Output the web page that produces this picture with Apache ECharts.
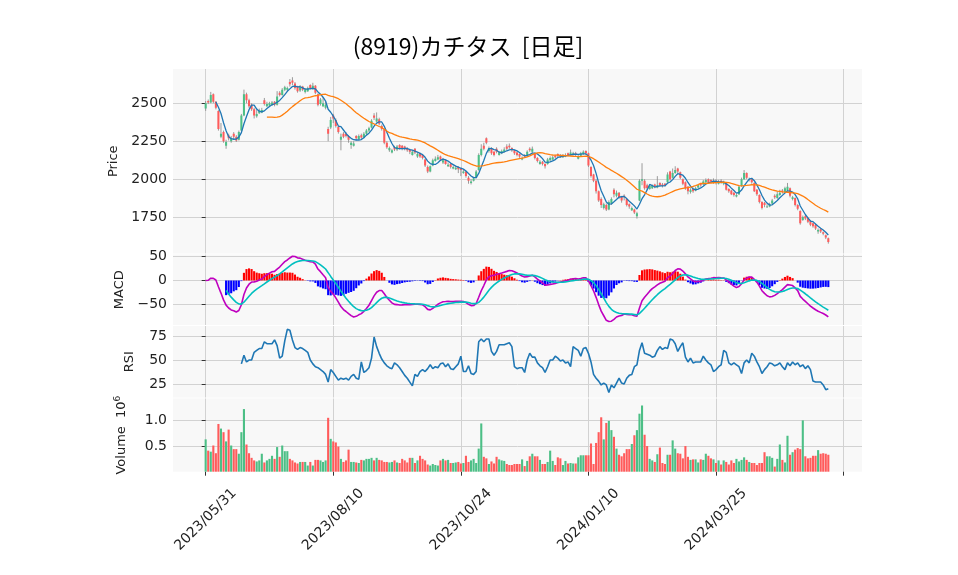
<!DOCTYPE html>
<html>
<head>
<meta charset="utf-8">
<script src="https://cdn.jsdelivr.net/npm/echarts@6/dist/echarts.min.js"></script>
<style>
  html, body { margin: 0; padding: 0; background: #fff; }
  #chart { width: 958px; height: 575px; }
</style>
</head>
<body>
<div id="chart"></div>
<script>
// x ticks every 50 trading days
const tickIdx = [0, 50, 100, 150, 200, 250];
const tickLabels = ['2023/05/31', '2023/08/10', '2023/10/24', '2024/01/10', '2024/03/25', ''];

// daily prices (yen)
const openP = [
  2465,2515,2505,2560,2510,2450,2280,2310,2220,2290, 2250,2300,2280,2260,2320,2420,2560,2520,2490,2460,
  2415,2435,2440,2520,2480,2485,2490,2510,2490,2570, 2555,2590,2590,2640,2650,2630,2610,2585,2610,2575,
  2580,2620,2595,2615,2560,2495,2480,2470,2330,2340, 2420,2390,2345,2260,2300,2300,2285,2225,2220,2285,
  2265,2290,2275,2300,2320,2340,2420,2380,2395,2350, 2330,2240,2190,2175,2210,2195,2225,2220,2215,2205,
  2195,2160,2200,2150,2170,2160,2130,2080,2050,2090, 2120,2130,2150,2110,2125,2085,2100,2070,2065,2080,
  2070,2040,2050,2010,1975,1990,2010,2060,2160,2220, 2270,2185,2200,2180,2200,2160,2170,2180,2215,2220,
  2205,2190,2175,2165,2130,2160,2160,2200,2180,2170, 2140,2100,2115,2100,2100,2125,2130,2155,2165,2160,
  2145,2150,2170,2160,2160,2170,2135,2155,2165,2185, 2170,2080,2030,1990,1920,1870,1810,1830,1800,1840,
  1930,1890,1910,1885,1890,1870,1835,1795,1800,1755, 1860,1990,1990,1960,1935,1940,1965,1945,1975,1965,
  1970,1980,2050,2010,2040,2070,2045,2000,1980,1950, 1915,1935,1925,1945,1970,1965,1980,2000,1995,1975,
  1990,1970,1990,1970,1975,1935,1925,1910,1885,1900, 1955,2000,2040,1995,2000,1975,1930,1895,1850,1845,
  1815,1820,1840,1890,1875,1895,1925,1915,1925,1940, 1870,1875,1830,1790,1730,1755,1745,1725,1710,1700,
  1655,1670,1650,1630,1610
];
const highP = [
  2515,2525,2575,2565,2515,2455,2370,2320,2260,2300, 2285,2310,2290,2320,2430,2590,2570,2530,2500,2470,
  2460,2465,2470,2535,2510,2510,2515,2515,2580,2580, 2600,2615,2610,2660,2672,2640,2615,2620,2615,2600,
  2610,2625,2635,2620,2565,2535,2540,2510,2345,2410, 2430,2400,2350,2300,2310,2310,2290,2250,2250,2290,
  2295,2300,2310,2330,2345,2395,2435,2440,2405,2360, 2335,2250,2215,2200,2220,2225,2230,2225,2220,2210,
  2200,2190,2205,2175,2175,2165,2135,2090,2090,2135, 2150,2160,2155,2140,2130,2110,2105,2090,2085,2085,
  2075,2060,2055,2020,2000,2015,2060,2170,2230,2240, 2275,2215,2210,2185,2210,2185,2195,2210,2230,2235,
  2210,2195,2180,2170,2150,2165,2190,2210,2215,2175, 2145,2125,2120,2105,2140,2150,2155,2160,2170,2165,
  2165,2170,2175,2195,2180,2180,2160,2180,2190,2190, 2175,2085,2035,2000,1925,1880,1845,1840,1860,1880,
  1940,1925,1915,1890,1900,1875,1840,1820,1805,1785, 2000,2105,2000,1970,1965,1965,1970,2020,1980,1975,
  1975,2045,2055,2070,2085,2075,2050,2005,1985,1955, 1940,1945,1950,1965,1975,1995,2005,2005,2000,2005,
  2000,1995,2000,1990,1980,1940,1930,1915,1905,1955, 2010,2060,2045,2010,2005,1980,1935,1900,1855,1850,
  1835,1845,1870,1900,1920,1930,1935,1950,1975,1945, 1890,1880,1835,1795,1760,1765,1750,1730,1715,1705,
  1675,1675,1655,1635,1615
];
const lowP = [
  2450,2495,2500,2500,2460,2320,2270,2240,2200,2255, 2240,2265,2245,2255,2315,2415,2500,2470,2450,2400,
  2405,2430,2435,2485,2475,2475,2485,2480,2485,2545, 2550,2580,2575,2610,2620,2590,2570,2575,2580,2565,
  2575,2590,2590,2560,2480,2485,2475,2460,2250,2330, 2370,2340,2300,2190,2270,2275,2240,2200,2215,2255,
  2260,2265,2270,2290,2310,2335,2390,2375,2355,2320, 2230,2200,2180,2170,2185,2185,2195,2190,2190,2180,
  2165,2155,2165,2140,2140,2130,2080,2040,2045,2085, 2115,2125,2120,2100,2095,2080,2070,2065,2060,2040,
  2020,2035,2010,1970,1965,1985,2005,2055,2150,2190, 2230,2175,2160,2150,2170,2155,2165,2175,2190,2200,
  2180,2160,2150,2140,2125,2140,2150,2180,2170,2130, 2110,2095,2090,2070,2095,2120,2125,2135,2145,2140,
  2140,2145,2150,2155,2155,2150,2130,2150,2160,2160, 2080,2010,1980,1905,1850,1810,1800,1790,1795,1830,
  1880,1880,1870,1845,1860,1820,1805,1790,1770,1740, 1855,1960,1930,1930,1930,1935,1940,1940,1950,1945,
  1950,1975,1990,2005,2035,2040,2000,1960,1930,1900, 1905,1910,1920,1940,1950,1960,1975,1970,1975,1970,
  1965,1965,1970,1960,1925,1910,1895,1885,1880,1895, 1950,1995,2000,1985,1970,1915,1890,1840,1800,1815,
  1810,1815,1835,1870,1870,1890,1905,1910,1920,1880, 1860,1820,1795,1700,1725,1730,1710,1690,1680,1665,
  1640,1645,1630,1605,1575
];
const closeP = [
  2500,2505,2555,2510,2470,2330,2300,2250,2245,2270, 2270,2280,2255,2310,2420,2560,2520,2480,2460,2420,
  2430,2450,2455,2495,2495,2500,2505,2490,2545,2555, 2590,2605,2600,2625,2635,2600,2580,2605,2590,2590,
  2600,2600,2615,2570,2490,2525,2500,2490,2300,2390, 2400,2350,2310,2280,2280,2285,2260,2240,2235,2270,
  2285,2275,2300,2320,2335,2385,2405,2400,2365,2330, 2240,2210,2205,2190,2195,2215,2200,2205,2200,2190,
  2180,2180,2175,2165,2150,2140,2090,2050,2085,2125, 2135,2145,2130,2125,2100,2095,2080,2080,2075,2065,
  2060,2050,2020,1990,1985,2005,2050,2160,2200,2200, 2240,2205,2170,2160,2180,2175,2185,2195,2200,2210,
  2190,2170,2160,2150,2140,2150,2180,2190,2200,2140, 2120,2115,2100,2085,2130,2140,2145,2145,2155,2150,
  2155,2160,2160,2175,2170,2160,2150,2170,2180,2170, 2090,2020,1990,1920,1860,1830,1835,1800,1850,1870,
  1900,1910,1880,1860,1880,1830,1820,1810,1780,1775, 1990,2000,1940,1940,1955,1955,1950,1960,1960,1955,
  1960,2030,2000,2040,2060,2050,2010,1970,1940,1920, 1930,1920,1940,1960,1960,1985,1995,1980,1985,1990,
  1975,1985,1975,1980,1930,1920,1900,1895,1895,1950, 2000,2040,2010,2000,1980,1920,1900,1850,1810,1830,
  1820,1835,1860,1880,1900,1910,1915,1940,1950,1890, 1880,1830,1805,1710,1750,1740,1720,1700,1690,1675,
  1665,1655,1640,1615,1585
];
// volume in millions of shares
const volume = [
  0.63,0.41,0.39,0.51,0.36,0.93,0.84,0.77,0.59,0.82, 0.51,0.44,0.44,0.35,0.77,1.22,0.53,0.36,0.27,0.22,
  0.20,0.22,0.35,0.18,0.22,0.25,0.31,0.25,0.48,0.29, 0.51,0.40,0.40,0.25,0.22,0.18,0.16,0.19,0.19,0.19,
  0.12,0.19,0.12,0.23,0.23,0.22,0.19,0.22,1.05,0.64, 0.59,0.57,0.49,0.25,0.19,0.22,0.43,0.19,0.19,0.18,
  0.17,0.23,0.22,0.25,0.25,0.27,0.22,0.27,0.23,0.22, 0.19,0.19,0.18,0.19,0.22,0.18,0.17,0.25,0.22,0.18,
  0.27,0.27,0.17,0.22,0.31,0.25,0.22,0.14,0.12,0.15, 0.13,0.12,0.22,0.25,0.22,0.23,0.17,0.17,0.18,0.19,
  0.16,0.17,0.31,0.19,0.22,0.25,0.17,0.45,0.94,0.29, 0.26,0.15,0.20,0.16,0.29,0.24,0.22,0.21,0.15,0.13,
  0.13,0.15,0.15,0.15,0.24,0.11,0.21,0.30,0.35,0.30, 0.30,0.23,0.15,0.15,0.19,0.41,0.21,0.13,0.28,0.26,
  0.13,0.21,0.16,0.17,0.16,0.16,0.28,0.32,0.32,0.32, 0.32,0.55,0.15,0.56,0.77,1.06,0.63,0.95,0.99,0.81,
  0.68,0.45,0.33,0.30,0.36,0.44,0.44,0.54,0.71,0.81, 1.13,1.29,0.72,0.50,0.25,0.22,0.19,0.34,0.47,0.17,
  0.15,0.33,0.33,0.61,0.45,0.36,0.35,0.26,0.50,0.29, 0.23,0.24,0.24,0.18,0.24,0.23,0.35,0.31,0.26,0.24,
  0.17,0.22,0.14,0.22,0.19,0.14,0.22,0.17,0.25,0.20, 0.23,0.28,0.23,0.19,0.17,0.17,0.13,0.17,0.17,0.38,
  0.30,0.30,0.27,0.10,0.25,0.53,0.23,0.18,0.70,0.33, 0.38,0.43,0.46,0.44,1.00,0.30,0.26,0.27,0.31,0.31,
  0.42,0.35,0.36,0.35,0.33
];
// RSI(14) as drawn, from day 14 on
const rsiStart = 14;
const rsiVals = [
  46,55,48,50,50,58,60,62,62,69, 67,67,67,71,65,52,54,70,82,81,
  71,63,61,63,62,60,58,50,46,43, 42,40,38,35,27,40,37,33,29,31,
  30,31,29,33,35,31,30,48,37,39, 42,52,74,64,57,51,47,44,42,41,
  47,45,42,38,34,31,27,23,35,33, 38,40,38,41,45,41,43,42,46,47,
  43,46,41,40,43,46,54,38,38,44, 36,35,38,69,72,69,72,72,59,55,
  59,66,66,66,67,68,64,43,41,42, 42,37,50,57,53,53,47,44,42,37,
  43,50,50,54,52,49,50,47,48,43, 64,62,60,54,62,63,57,48,35,31,
  28,24,26,24,16,24,21,26,31,26, 25,31,34,35,43,45,60,68,57,56,
  55,53,54,60,64,61,63,62,72,71, 67,59,64,68,53,48,52,47,48,48,
  48,54,50,47,45,38,40,43,45,60, 58,47,45,47,45,43,36,47,50,47,
  57,54,48,43,36,40,43,47,46,44, 45,47,43,40,47,44,48,45,47,43,
  45,41,44,40,28,27,27,27,24,19, 20
];

const UP = '#4cbf86', DOWN = '#ff5b5b';

// moving averages and MACD from the closes
function sma(src, n) {
  return src.map((v, i) => {
    if (i < n - 1) return null;
    let s = 0;
    for (let k = i - n + 1; k <= i; k++) s += src[k];
    return s / n;
  });
}
function ema(src, n) {
  const a = 2 / (n + 1), out = [];
  src.forEach((v, i) => out.push(i === 0 ? v : a * v + (1 - a) * out[i - 1]));
  return out;
}
const ma5 = sma(closeP, 5);
const ma25 = sma(closeP, 25);
const e12 = ema(closeP, 12), e26 = ema(closeP, 26);
const macd = e12.map((v, i) => v - e26[i]);
const signal = ema(macd, 9);
const hist = macd.map((v, i) => v - signal[i]);

function pts(arr, from) {
  const out = [];
  arr.forEach((v, i) => { if (v !== null && i >= (from || 0)) out.push([i, v]); });
  return out;
}

const candleData = closeP.map((c, i) => [i, openP[i], c, lowP[i], highP[i]]);
const volData = volume.map((v, i) => ({
  value: [i, v],
  itemStyle: { color: closeP[i] >= openP[i] ? UP : DOWN }
}));
const histData = pts(hist, 8).map(p => ({
  value: p,
  itemStyle: { color: p[1] >= 0 ? '#ff0000' : '#0000ff' }
}));
const rsiData = rsiVals.map((v, k) => [rsiStart + k, v]);

const FONT = 'DejaVu Sans';
const GRIDC = '#d2d2d2';
const X_MIN = -12.8, X_MAX = 257.2;

const grids = [
  { top: 69, height: 184.5 },
  { top: 254.5, height: 70.5 },
  { top: 326, height: 71.5 },
  { top: 398.5, height: 73.2 }
];

function xAxis(gi, bottom) {
  return {
    type: 'value', gridIndex: gi, min: X_MIN, max: X_MAX,
    axisLine: { show: false },
    axisTick: { show: bottom, customValues: tickIdx, length: 4, lineStyle: { color: '#333' } },
    axisLabel: {
      show: bottom, customValues: tickIdx, rotate: 45, margin: 48,
      align: 'center', verticalAlign: 'middle',
      fontFamily: FONT, fontSize: 14, color: '#222',
      formatter: v => tickLabels[tickIdx.indexOf(v)] || ''
    },
    splitLine: { show: true, lineStyle: { color: GRIDC, width: 1 } }
  };
}
function yAxis(gi, min, max, ticks, name, gap, fmt) {
  return {
    type: 'value', gridIndex: gi, min: min, max: max,
    name: name, nameLocation: 'middle', nameGap: gap,
    nameTextStyle: {
      fontFamily: FONT, fontSize: 13, color: '#222',
      rich: { sup: { fontFamily: FONT, fontSize: 9, color: '#222', padding: [0, 0, 9, 0] } }
    },
    axisLine: { show: false },
    axisTick: { show: true, customValues: ticks, length: 4, lineStyle: { color: '#333' } },
    axisLabel: { customValues: ticks, fontFamily: FONT, fontSize: 14, color: '#222', margin: 6, formatter: fmt },
    splitLine: { show: true, lineStyle: { color: GRIDC, width: 1 } }
  };
}
const minusFmt = v => (v < 0 ? '\u2212' + (-v) : String(v));

const chart = echarts.init(document.getElementById('chart'), null, { renderer: 'canvas' });
chart.setOption({
  animation: false,
  backgroundColor: '#ffffff',
  graphic: [{
    type: 'text', x: 468, y: 46,
    style: {
      text: '(8919)カチタス  [日足]', font: '23px "Noto Sans CJK JP"', fill: '#000',
      textAlign: 'center', textVerticalAlign: 'middle'
    }
  }],
  grid: grids.map(g => ({
    left: 173, right: 96, top: g.top, height: g.height,
    show: true, backgroundColor: '#f8f8f8', borderWidth: 0
  })),
  xAxis: [xAxis(0, false), xAxis(1, false), xAxis(2, false), xAxis(3, true)],
  yAxis: [
    yAxis(0, 1510, 2726, [1750, 2000, 2250, 2500], 'Price', 52, v => String(v)),
    yAxis(1, -92, 53.7, [-50, 0, 50], 'MACD', 44, minusFmt),
    yAxis(2, 10.9, 85.5, [25, 50, 75], 'RSI', 37, v => String(v)),
    yAxis(3, 0, 1.426, [0.5, 1.0], 'Volume  10{sup|6}', 42, v => v.toFixed(1))
  ],
  series: [
    {
      type: 'custom', name: 'candle', xAxisIndex: 0, yAxisIndex: 0, clip: true,
      data: candleData,
      encode: { x: 0, y: [1, 2, 3, 4] },
      renderItem: function (params, api) {
        const x = api.value(0), o = api.value(1), c = api.value(2), l = api.value(3), h = api.value(4);
        const pO = api.coord([x, o]), pC = api.coord([x, c]);
        const pL = api.coord([x, l]), pH = api.coord([x, h]);
        const w = api.size([1, 0])[0] * 0.8;
        const top = Math.min(pO[1], pC[1]);
        const hgt = Math.max(Math.abs(pO[1] - pC[1]), 0.8);
        return {
          type: 'group',
          children: [
            { type: 'line', shape: { x1: pH[0], y1: pH[1], x2: pL[0], y2: pL[1] },
              style: { stroke: '#8f8f8f', lineWidth: 0.9 } },
            { type: 'rect', shape: { x: pO[0] - w / 2, y: top, width: w, height: hgt },
              style: { fill: c >= o ? UP : DOWN } }
          ]
        };
      }
    },
    { type: 'line', name: 'MA5', xAxisIndex: 0, yAxisIndex: 0, data: pts(ma5), showSymbol: false,
      lineStyle: { color: '#1f77b4', width: 1.3 }, z: 3 },
    { type: 'line', name: 'MA25', xAxisIndex: 0, yAxisIndex: 0, data: pts(ma25), showSymbol: false,
      lineStyle: { color: '#ff7f0e', width: 1.3 }, z: 3 },
    { type: 'bar', name: 'hist', xAxisIndex: 1, yAxisIndex: 1, data: histData, barWidth: 2.1 },
    { type: 'line', name: 'MACD', xAxisIndex: 1, yAxisIndex: 1, data: pts(macd), showSymbol: false,
      lineStyle: { color: '#bf00bf', width: 1.6 }, z: 3 },
    { type: 'line', name: 'Signal', xAxisIndex: 1, yAxisIndex: 1, data: pts(signal, 8), showSymbol: false,
      lineStyle: { color: '#00bfbf', width: 1.6 }, z: 3 },
    { type: 'line', name: 'RSI', xAxisIndex: 2, yAxisIndex: 2, data: rsiData, showSymbol: false,
      lineStyle: { color: '#1f77b4', width: 1.6 } },
    { type: 'bar', name: 'Volume', xAxisIndex: 3, yAxisIndex: 3, data: volData, barWidth: 2.1 }
  ]
});
</script>
</body>
</html>
